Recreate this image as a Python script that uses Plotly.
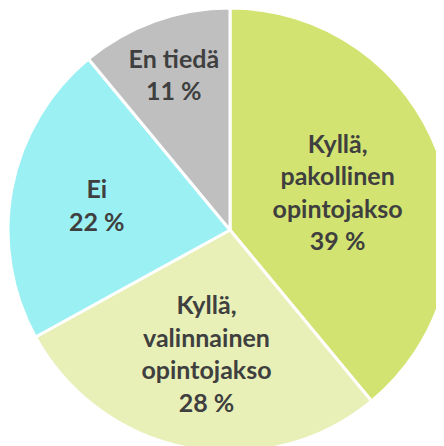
import plotly.graph_objects as go

labels = ["Kyllä, pakollinen opintojakso", "Kyllä, valinnainen opintojakso", "Ei", "En tiedä"]
text_labels = ["Kyllä,<br>pakollinen<br>opintojakso", "Kyllä,<br>valinnainen<br>opintojakso", "Ei", "En tiedä"]
values = [39, 28, 22, 11]
colors = ["#d3e371", "#e8f0b8", "#9af0f3", "#bfbfbf"]

texts = [f"{t}<br>{v} %" for t, v in zip(text_labels, values)]

fig = go.Figure(go.Pie(
    labels=labels,
    values=values,
    text=texts,
    textinfo="text",
    textposition="inside",
    insidetextorientation="horizontal",
    sort=False,
    direction="clockwise",
    rotation=0,
    marker=dict(colors=colors, line=dict(color="white", width=3)),
    textfont=dict(family="Lato", size=25, color="#3f3f3f", weight="bold"),
    hoverinfo="label+percent",
    showlegend=False,
))

fig.update_layout(
    width=444, height=444,
    margin=dict(l=0, r=0, t=0, b=0),
    paper_bgcolor="white",
    plot_bgcolor="white",
    uniformtext=dict(minsize=25, mode="show"),
)

fig.write_html("out.html", post_script="document.documentElement.style.overflow='hidden';document.body.style.overflow='hidden';")
